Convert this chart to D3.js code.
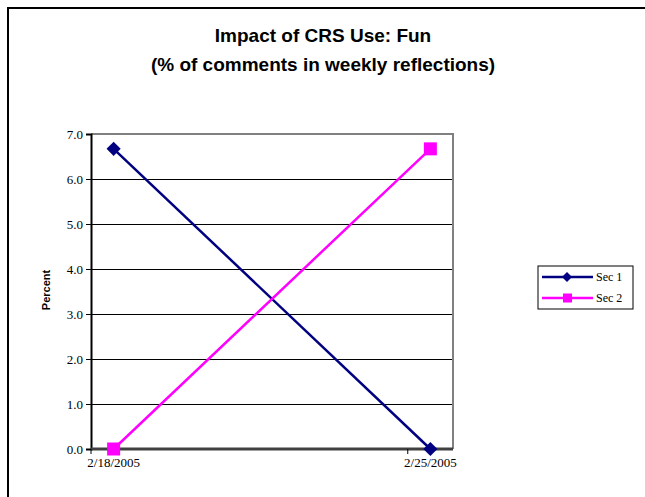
<!DOCTYPE html>
<meta charset="utf-8">
<style>
    body { margin: 0; background: white; }
</style>
<body>
<div id="chart"></div>
<script src="https://d3js.org/d3.v7.min.js"></script>
<script>
    // data
    var days = ["2/18/2005", "2/19/2005", "2/20/2005", "2/21/2005", "2/22/2005", "2/23/2005", "2/24/2005", "2/25/2005"];
    var dates = ["2/18/2005", "2/25/2005"];
    var sec1 = [6.67, 0];
    var sec2 = [0, 6.67];
    var seriesNames = ["Sec 1", "Sec 2"];
    var yTicks = [0, 1, 2, 3, 4, 5, 6, 7];

    var width = 645, height = 497;
    var plotLeft = 91, plotRight = 453, plotTop = 134, plotBottom = 449;
    var serif = "'Liberation Serif', 'Times New Roman', serif";

    var svg = d3.select("#chart").append("svg")
        .attr("width", width)
        .attr("height", height);

    // chart frame (runs off right and bottom)
    svg.append("path")
        .attr("d", "M8,500 L8,8 L650,8")
        .attr("fill", "none")
        .attr("stroke", "black")
        .attr("stroke-width", 2);

    // title
    var title = svg.append("text")
        .attr("text-anchor", "middle")
        .style("font-family", "Arial, 'Liberation Sans', sans-serif")
        .style("font-weight", "bold")
        .style("font-size", "19px");
    title.append("tspan").attr("x", 323).attr("y", 42).text("Impact of CRS Use: Fun");
    title.append("tspan").attr("x", 323).attr("y", 71).text("(% of comments in weekly reflections)");

    var x = d3.scaleBand().domain(days).range([plotLeft, plotRight]);
    var y = d3.scaleLinear().domain([0, 7]).range([plotBottom, plotTop]);

    // gridlines
    svg.append("g").selectAll("line")
        .data(yTicks.filter(function(d) { return d > 0 && d < 7; }))
        .enter().append("line")
        .attr("x1", plotLeft).attr("x2", plotRight)
        .attr("y1", function(d) { return y(d) + 0.5; })
        .attr("y2", function(d) { return y(d) + 0.5; })
        .attr("stroke", "black")
        .attr("stroke-width", 1)
        .attr("shape-rendering", "crispEdges");

    // plot border top/right
    svg.append("path")
        .attr("d", "M" + plotLeft + "," + plotTop + " L" + plotRight + "," + plotTop + " L" + plotRight + "," + plotBottom)
        .attr("fill", "none")
        .attr("stroke", "#808080")
        .attr("stroke-width", 2);

    // y axis
    var yAxis = svg.append("g")
        .attr("transform", "translate(" + plotLeft + ",0)")
        .call(d3.axisLeft(y).tickValues(yTicks).tickFormat(d3.format(".1f")).tickSize(5).tickPadding(3));
    yAxis.select(".domain").attr("stroke", "black").attr("stroke-width", 2);
    yAxis.selectAll(".tick line").attr("stroke", "black");
    yAxis.selectAll(".tick text")
        .style("font-family", serif).style("font-size", "13px").attr("fill", "black");

    // x axis
    var xAxis = svg.append("g")
        .attr("transform", "translate(0," + plotBottom + ")")
        .call(d3.axisBottom(x).tickValues(dates).tickSize(0).tickPadding(9));
    xAxis.select(".domain").remove();
    xAxis.selectAll(".tick text")
        .style("font-family", serif).style("font-size", "13px").attr("fill", "black");
    svg.append("line")
        .attr("x1", plotLeft).attr("x2", plotRight)
        .attr("y1", plotBottom).attr("y2", plotBottom)
        .attr("stroke", "#404040").attr("stroke-width", 3);
    svg.append("g").selectAll("line")
        .data([days[0], days[7]])
        .enter().append("line")
        .attr("x1", function(d) { return x(d); })
        .attr("x2", function(d) { return x(d); })
        .attr("y1", plotBottom).attr("y2", plotBottom + 5)
        .attr("stroke", "black");

    // y title
    svg.append("text")
        .attr("transform", "translate(50,290) rotate(-90)")
        .attr("text-anchor", "middle")
        .style("font-family", "Arial, 'Liberation Sans', sans-serif")
        .style("font-weight", "bold")
        .style("font-size", "11px")
        .text("Percent");

    var cx = function(d, i) { return x(dates[i]) + x.bandwidth() / 2; };
    var line = d3.line()
        .x(function(d, i) { return cx(d, i); })
        .y(function(d) { return y(d); });

    // Sec 1
    svg.append("path").datum(sec1)
        .attr("d", line)
        .attr("fill", "none")
        .attr("stroke", "#000080")
        .attr("stroke-width", 2.5);
    svg.append("g").selectAll("path")
        .data(sec1).enter().append("path")
        .attr("d", d3.symbol().type(d3.symbolSquare).size(100))
        .attr("transform", function(d, i) { return "translate(" + cx(d, i) + "," + y(d) + ") rotate(45)"; })
        .attr("fill", "#000080");

    // Sec 2
    svg.append("path").datum(sec2)
        .attr("d", line)
        .attr("fill", "none")
        .attr("stroke", "#FF00FF")
        .attr("stroke-width", 2.5);
    svg.append("g").selectAll("rect")
        .data(sec2).enter().append("rect")
        .attr("x", function(d, i) { return cx(d, i) - 6.5; })
        .attr("y", function(d) { return y(d) - 6.5; })
        .attr("width", 13).attr("height", 13)
        .attr("fill", "#FF00FF");

    // legend
    var legend = svg.append("g");
    legend.append("rect")
        .attr("x", 538).attr("y", 266)
        .attr("width", 95).attr("height", 43)
        .attr("fill", "white")
        .attr("stroke", "black").attr("stroke-width", 1);
    var colors = ["#000080", "#FF00FF"];
    seriesNames.forEach(function(name, i) {
        var ly = 277 + i * 21;
        legend.append("line")
            .attr("x1", 542).attr("x2", 593)
            .attr("y1", ly).attr("y2", ly)
            .attr("stroke", colors[i]).attr("stroke-width", 2.5);
        if (i === 0) {
            legend.append("path")
                .attr("d", d3.symbol().type(d3.symbolSquare).size(50))
                .attr("transform", "translate(567," + ly + ") rotate(45)")
                .attr("fill", colors[i]);
        } else {
            legend.append("rect")
                .attr("x", 563).attr("y", ly - 4.5)
                .attr("width", 9).attr("height", 9)
                .attr("fill", colors[i]);
        }
        legend.append("text")
            .attr("x", 596).attr("y", ly + 4)
            .style("font-family", serif)
            .style("font-size", "12px")
            .text(name);
    });
</script>
</body>
</html>
